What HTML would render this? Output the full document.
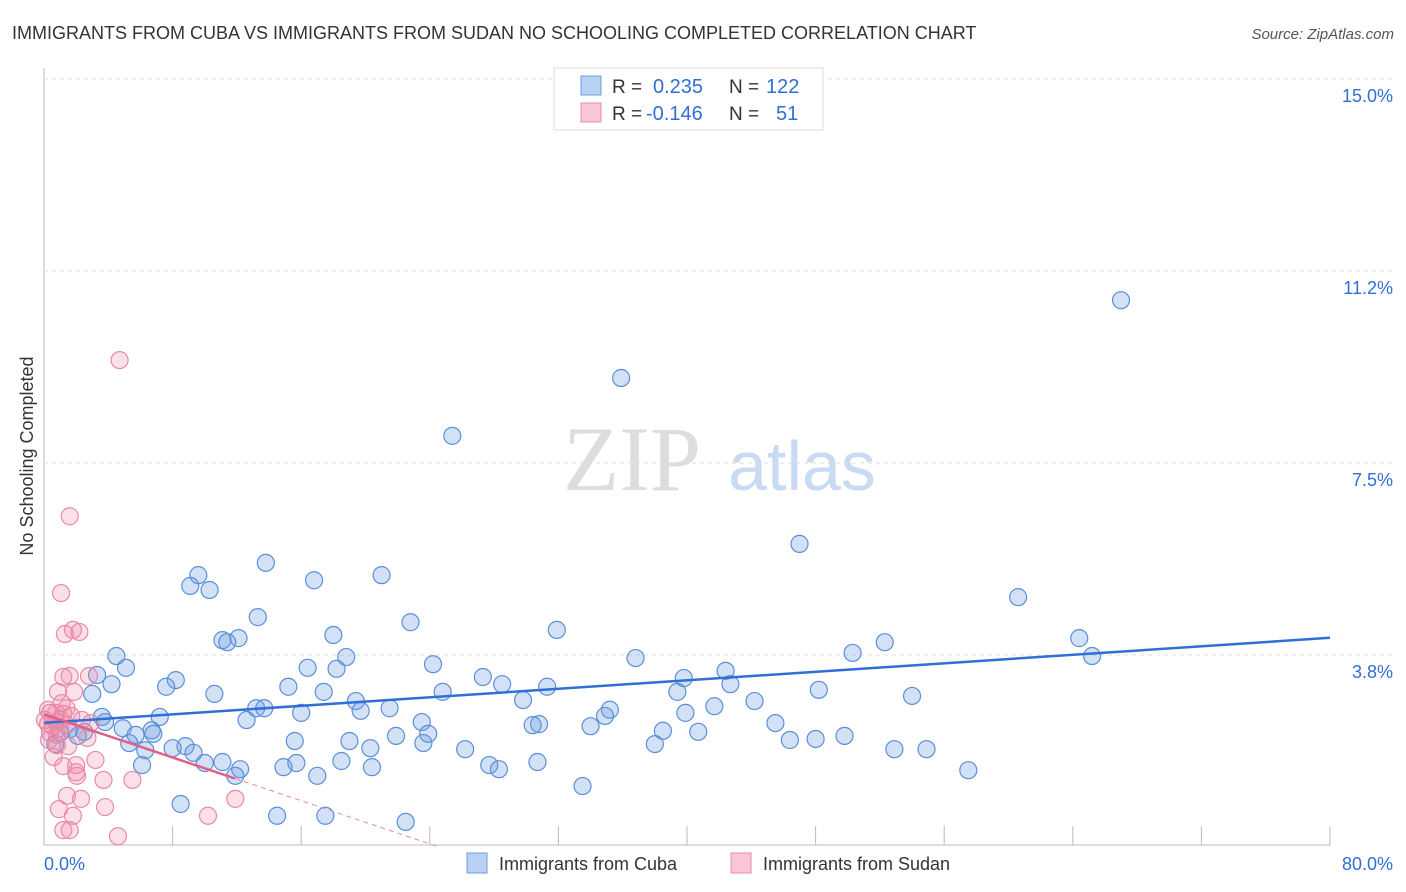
<!DOCTYPE html>
<html><head><meta charset="utf-8"><style>
body{margin:0;background:#fff;font-family:"Liberation Sans",sans-serif;}
svg{display:block}
</style></head><body>
<svg id="chart" width="1406" height="892">
<text x="12" y="39" font-size="18" fill="#333">IMMIGRANTS FROM CUBA VS IMMIGRANTS FROM SUDAN NO SCHOOLING COMPLETED CORRELATION CHART</text>
<text x="1394" y="39" font-size="15" fill="#555" font-style="italic" text-anchor="end">Source: ZipAtlas.com</text>
<g>
<text x="632" y="490" font-size="92" font-family="Liberation Serif,serif" fill="#ddd" text-anchor="middle">ZIP</text>
<text x="802" y="490" font-size="70" fill="#c9daf2" text-anchor="middle">atlas</text>
</g>
<text transform="translate(33,456) rotate(-90)" font-size="18" fill="#333" text-anchor="middle">No Schooling Completed</text>
<g id="grid"></g><g id="ticks"></g><g id="marks"></g>
<g>
<rect x="554" y="68" width="269" height="62" fill="#fff" stroke="#ddd"/>
<rect x="581" y="76" width="20" height="19" fill="#b8d0f2" stroke="#6e9be0"/>
<rect x="581" y="103" width="20" height="19" fill="#f9c6d5" stroke="#e88aa8"/>
<text x="612" y="93" font-size="19" fill="#333">R = </text><text x="653" y="93" font-size="20" fill="#2f6fd6">0.235</text>
<text x="729" y="93" font-size="19" fill="#333">N = </text><text x="766" y="93" font-size="20" fill="#2f6fd6">122</text>
<text x="612" y="120" font-size="19" fill="#333">R = </text><text x="646" y="120" font-size="20" fill="#2f6fd6">-0.146</text>
<text x="729" y="120" font-size="19" fill="#333">N = </text><text x="776" y="120" font-size="20" fill="#2f6fd6">51</text>
</g>
<g>
<rect x="467" y="853" width="20" height="20" fill="#b8d0f2" stroke="#6e9be0"/>
<text x="499" y="870" font-size="18" fill="#333">Immigrants from Cuba</text>
<rect x="731" y="853" width="20" height="20" fill="#f9c6d5" stroke="#e88aa8"/>
<text x="763" y="870" font-size="18" fill="#333">Immigrants from Sudan</text>
</g>
</svg>
<script>
const yTicks=[3.8,7.5,11.2,15.0];
const yTickLabels=["3.8%","7.5%","11.2%","15.0%"];
const xTickLabels=["0.0%","80.0%"];
const cubaX=[67.0,35.9,25.4,47.0,13.8,9.6,21.0,16.8,9.1,10.3,60.6,13.3,22.8,31.9,18.0,11.1,12.1,11.4,64.4,52.3,50.3,65.2,4.5,18.8,36.8,24.2,5.1,16.4,18.2,42.4,3.3,27.3,39.8,8.2,4.2,42.7,28.5,7.6,15.2,31.3,39.4,48.2,3.0,10.6,17.4,24.8,54.0,19.4,44.2,29.8,13.2,13.7,19.7,41.7,35.2,21.5,39.9,16.0,34.9,3.6,7.2,12.6,3.8,23.5,45.5,30.8,30.4,34.0,4.9,1.6,6.7,38.5,2.5,1.0,40.7,6.8,5.7,23.9,21.9,49.8,2.1,46.4,48.0,15.6,19.0,5.3,23.6,38.0,0.7,8.8,8.0,20.3,52.9,54.9,26.2,6.3,9.3,11.1,10.0,18.5,15.7,30.7,27.7,6.1,14.9,20.4,28.3,12.2,57.5,11.9,17.0,33.5,8.5,14.5,17.5,22.5];
const cubaY=[10.68,9.16,8.03,5.92,5.55,5.31,5.31,5.21,5.10,5.02,4.88,4.49,4.39,4.24,4.14,4.04,4.08,4.00,4.08,4.00,3.79,3.73,3.73,3.71,3.69,3.57,3.50,3.50,3.48,3.44,3.36,3.32,3.30,3.26,3.18,3.18,3.18,3.13,3.13,3.13,3.03,3.07,2.99,2.99,3.03,3.03,2.95,2.85,2.85,2.87,2.71,2.71,2.66,2.75,2.68,2.71,2.62,2.62,2.56,2.54,2.54,2.48,2.44,2.44,2.42,2.40,2.38,2.36,2.32,2.30,2.28,2.27,2.25,2.23,2.25,2.21,2.19,2.21,2.17,2.17,2.17,2.09,2.11,2.07,2.07,2.03,2.03,2.01,2.01,1.97,1.93,1.93,1.91,1.91,1.91,1.89,1.84,1.66,1.64,1.68,1.64,1.66,1.60,1.60,1.56,1.56,1.52,1.52,1.50,1.39,1.39,1.19,0.84,0.61,0.61,0.49];
const sudanX=[4.7,1.6,1.06,1.8,1.3,2.2,1.2,1.6,2.8,0.87,1.87,1.1,1.4,0.37,0.75,1.2,1.7,2.9,0.25,0.56,1.0,0.37,0.8,2.7,0.31,0.8,1.5,0.6,3.2,1.2,2.0,2.0,2.05,5.5,3.7,2.3,1.43,0.93,3.8,11.9,10.2,1.8,1.2,1.6,4.6,0.75,0.06,0.25,2.36,1.0,1.4];
const sudanY=[9.51,6.46,4.96,4.24,4.16,4.2,3.32,3.34,3.34,3.03,3.03,2.81,2.71,2.62,2.62,2.60,2.56,2.42,2.40,2.36,2.32,2.23,2.19,2.13,2.09,1.99,1.97,1.76,1.70,1.58,1.60,1.46,1.39,1.31,1.31,0.94,1.00,0.74,0.78,0.94,0.61,0.61,0.33,0.33,0.21,2.44,2.48,2.68,2.48,2.5,2.38];
const NS="http://www.w3.org/2000/svg";
const X0=44,X1=1330,YB=847,PPU=51.2;
const sx=v=>X0+v/80*(X1-X0), sy=v=>YB-v*PPU;
function mk(parent,tag,attrs){const e=document.createElementNS(NS,tag);for(const k in attrs)e.setAttribute(k,attrs[k]);document.getElementById(parent).appendChild(e);return e;}
// axes
let e=mk('grid','line',{x1:44,y1:68,x2:44,y2:845,stroke:'#bbb'});


e=mk('grid','line',{x1:44,y1:845,x2:1330,y2:845,stroke:'#bbb'});


yTicks.forEach((t,i)=>{
 const y=sy(t*0.9867+0.05);
 const yy=[655,463,271,79][i];
 let g=mk('grid','line',{x1:44,y1:yy,x2:1394,y2:yy,stroke:'#ddd','stroke-dasharray':'4,4'});
 
 
 let t2=mk('ticks','text',{x:1393,y:yy+23,'font-size':18,fill:'#2f6fd6','text-anchor':'end'});
 t2.textContent=yTickLabels[i];
 
 
});
for(let v=8;v<=80;v+=8){
 let l=mk('ticks','line',{x1:sx(v),y1:826,x2:sx(v),y2:845,stroke:'#bbb'});
 
 
}
let xl=mk('ticks','text',{x:44,y:870,'font-size':18,fill:'#2f6fd6'});xl.textContent=xTickLabels[0];


xl=mk('ticks','text',{x:1393,y:870,'font-size':18,fill:'#2f6fd6','text-anchor':'end'});xl.textContent=xTickLabels[1];


function pts(xs,ys,fill,stroke,name){xs.forEach((x,i)=>{
 const c=mk('marks','circle',{cx:sx(x),cy:sy(ys[i]),r:8.5,fill:fill,stroke:stroke,'stroke-width':1.2});
 
 
});}
function reg(xs,ys){const n=xs.length;let mx=0,my=0;xs.forEach((x,i)=>{mx+=x;my+=ys[i]});mx/=n;my/=n;let sxy=0,sxx=0;xs.forEach((x,i)=>{sxy+=(x-mx)*(ys[i]-my);sxx+=(x-mx)**2});const b=sxy/sxx;return [my-b*mx,b];}
pts(cubaX,cubaY,'rgba(110,155,224,0.3)','#5b8fd8','cuba-point');
pts(sudanX,sudanY,'rgba(240,130,165,0.25)','#e88aa8','sudan-point');
const [ca,cb]=reg(cubaX,cubaY);
let tl=mk('marks','line',{x1:sx(0),y1:sy(ca),x2:sx(80),y2:sy(ca+cb*80),stroke:'#2f6fd6','stroke-width':2.5});


const [sa,sb]=reg(sudanX,sudanY);
const xe=Math.max(...sudanX);
tl=mk('marks','line',{x1:sx(0),y1:sy(sa),x2:sx(xe),y2:sy(sa+sb*xe),stroke:'#e0608a','stroke-width':2.5});


const xz=sb<0?Math.min(-sa/sb,80):80;
tl=mk('marks','line',{x1:sx(xe),y1:sy(sa+sb*xe),x2:sx(xz),y2:sy(sa+sb*xz),stroke:'#e88aa8','stroke-width':1,'stroke-dasharray':'5,4'});


</script>
</body></html>
